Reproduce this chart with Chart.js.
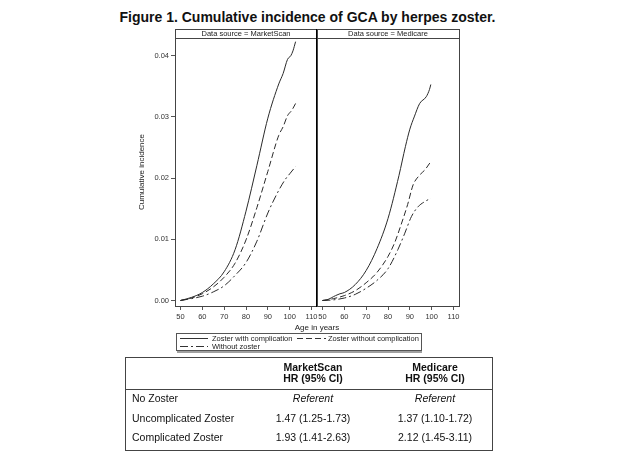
<!DOCTYPE html>
<html>
<head>
<meta charset="utf-8">
<script src="https://cdn.jsdelivr.net/npm/chart.js@4/dist/chart.umd.min.js"></script>
<style>
body { margin: 0; background: #fff; font-family: "Liberation Sans", Arial, sans-serif; color: #111; }
#wrap { position: relative; width: 617px; height: 463px; overflow: hidden; }
canvas { position: absolute; left: 0; top: 0; }
.t { position: absolute; white-space: nowrap; line-height: 1; }
.leg { font-size: 7.5px; color: #222; }
.tb { font-size: 10.5px; color: #111; }
.c1 { left: 263px; width: 100px; text-align: center; }
.c2 { left: 385px; width: 100px; text-align: center; }
</style>
</head>
<body>
<div id="wrap">
  <div class="t" style="left:0;width:615px;top:10px;text-align:center;font-weight:bold;font-size:14px;">Figure 1. Cumulative incidence of GCA by herpes zoster.</div>

  <canvas id="leftChart" width="617" height="463"></canvas>
  <canvas id="rightChart" width="617" height="463"></canvas>

  <div class="t" style="left:267px;width:100px;top:324px;text-align:center;font-size:8px;color:#222;">Age in years</div>

  <!-- legend -->
  <div style="position:absolute;left:176px;top:333px;width:244px;height:16px;border:1px solid #555;"></div>
  <svg style="position:absolute;left:0;top:0;" width="617" height="463">
    <line x1="180" y1="338.5" x2="208" y2="338.5" stroke="#333" stroke-width="1"/>
    <line x1="297" y1="338.5" x2="326" y2="338.5" stroke="#333" stroke-width="1" stroke-dasharray="6,3"/>
    <line x1="180" y1="346.5" x2="208" y2="346.5" stroke="#333" stroke-width="1" stroke-dasharray="8,3,2,3"/>
  </svg>
  <div class="t leg" style="left:212px;top:335px;">Zoster with complication</div>
  <div class="t leg" style="left:328px;top:335px;">Zoster without complication</div>
  <div class="t leg" style="left:212px;top:343px;">Without zoster</div>
  <div style="position:absolute;left:177px;top:351px;width:245px;height:2px;background:#a0a0a0;"></div>

  <!-- table -->
  <div style="position:absolute;left:125px;top:357px;width:366px;height:92px;border:1px solid #444;"></div>
  <div style="position:absolute;left:126px;top:389px;width:366px;height:1px;background:#444;"></div>
  <div class="t tb c1" style="top:362px;font-weight:bold;">MarketScan</div>
  <div class="t tb c1" style="top:373px;font-weight:bold;">HR (95% CI)</div>
  <div class="t tb c2" style="top:362px;font-weight:bold;">Medicare</div>
  <div class="t tb c2" style="top:373px;font-weight:bold;">HR (95% CI)</div>
  <div class="t tb" style="left:132px;top:393px;">No Zoster</div>
  <div class="t tb" style="left:132px;top:413px;">Uncomplicated Zoster</div>
  <div class="t tb" style="left:132px;top:432px;">Complicated Zoster</div>
  <div class="t tb c1" style="top:393px;font-style:italic;">Referent</div>
  <div class="t tb c2" style="top:393px;font-style:italic;">Referent</div>
  <div class="t tb c1" style="top:413px;">1.47 (1.25-1.73)</div>
  <div class="t tb c2" style="top:413px;">1.37 (1.10-1.72)</div>
  <div class="t tb c1" style="top:432px;">1.93 (1.41-2.63)</div>
  <div class="t tb c2" style="top:432px;">2.12 (1.45-3.11)</div>
</div>

<script>
// tick labels
const xTicks = [50, 60, 70, 80, 90, 100, 110];
const yTicks = [0, 0.01, 0.02, 0.03, 0.04];

const seriesLabels = ['Zoster with complication', 'Zoster without complication', 'Without zoster'];

// MarketScan
const msAgeWith = [50, 55, 60, 65, 70, 75, 80, 85, 90, 95, 97, 99, 100.5, 101.5, 102.7];
const msWith = [0, 0.0005, 0.0013, 0.0027, 0.0047, 0.0083, 0.0146, 0.0221, 0.0298, 0.0354, 0.0371, 0.0394, 0.0400, 0.0408, 0.0423];
const msAgeWithout = [50, 55, 60, 65, 70, 75, 80, 85, 90, 95, 97, 99, 101, 102.7];
const msWithout = [0, 0.0004, 0.0011, 0.0022, 0.0038, 0.0061, 0.0099, 0.0152, 0.0211, 0.0270, 0.0284, 0.0302, 0.0311, 0.0322];
const msAgeNone = [50, 55, 60, 65, 70, 75, 80, 85, 90, 95, 98, 100, 102.7];
const msNone = [0, 0.0003, 0.0007, 0.0014, 0.0024, 0.0041, 0.0062, 0.0097, 0.0143, 0.0180, 0.0198, 0.0207, 0.0219];

// Medicare
const mcAgeWith = [50, 52, 56, 58, 60, 65, 70, 75, 80, 85, 88, 90, 92, 94.5, 97.5, 99, 99.6];
const mcWith = [0, 0.0001, 0.0008, 0.0011, 0.0013, 0.0026, 0.0049, 0.0085, 0.0134, 0.0204, 0.0252, 0.0280, 0.0300, 0.0322, 0.0333, 0.0345, 0.0353];
const mcAgeWithout = [50, 55, 60, 65, 70, 75, 80, 83, 86, 89, 91.5, 94, 97, 99.6];
const mcWithout = [0, 0.0003, 0.0008, 0.0016, 0.0029, 0.0046, 0.0072, 0.0094, 0.0124, 0.0157, 0.0189, 0.0203, 0.0214, 0.0227];
const mcAgeNone = [50, 55, 60, 65, 70, 75, 80, 84.5, 87.7, 90.7, 93.7, 97, 99.6];
const mcNone = [0, 0.0001, 0.0004, 0.0010, 0.0020, 0.0033, 0.0052, 0.0083, 0.0110, 0.0137, 0.0153, 0.0162, 0.0167];

const dashes = [[], [6, 3], [8, 3, 2, 3]];
const fontFamily = '"Liberation Sans", Arial, sans-serif';

function toPoints(ages, vals) {
    return ages.map((a, i) => ({ x: a, y: vals[i] }));
}

function makeDatasets(series) {
    return series.map((s, i) => ({
        label: seriesLabels[i],
        data: toPoints(s[0], s[1]),
        borderColor: '#2a2a2a',
        borderWidth: 1,
        borderDash: dashes[i],
        pointRadius: 0,
        cubicInterpolationMode: 'monotone',
        fill: false
    }));
}

// frame + "Data source = ..." strip
const panelFrame = {
    id: 'panelFrame',
    afterDraw(chart, args, opts) {
        const { ctx, chartArea: a } = chart;
        const top = a.top - 9;
        ctx.save();
        ctx.strokeStyle = '#444';
        ctx.lineWidth = 1;
        ctx.strokeRect(a.left + 0.5, top + 0.5, a.right - a.left, a.bottom - top);
        ctx.beginPath();
        ctx.moveTo(a.left, a.top + 0.5);
        ctx.lineTo(a.right, a.top + 0.5);
        ctx.stroke();
        if (opts.divider) {
            ctx.strokeStyle = '#000';
            ctx.lineWidth = 2;
            ctx.beginPath();
            ctx.moveTo(a.right, top);
            ctx.lineTo(a.right, a.bottom + 1);
            ctx.stroke();
        }
        ctx.fillStyle = '#222';
        ctx.font = '7.5px ' + fontFamily;
        ctx.textAlign = 'center';
        ctx.textBaseline = 'middle';
        ctx.fillText(opts.label, (a.left + a.right) / 2, top + 5);
        ctx.restore();
    }
};

function makeChart(id, series, label, showY, padding) {
    const ctx = document.getElementById(id).getContext('2d');
    return new Chart(ctx, {
        type: 'line',
        data: { datasets: makeDatasets(series) },
        options: {
            responsive: false,
            animation: false,
            devicePixelRatio: 1,
            layout: { padding: padding },
            plugins: {
                legend: { display: false },
                tooltip: { enabled: false },
                panelFrame: { label: label, divider: showY }
            },
            scales: {
                x: {
                    type: 'linear',
                    min: 47.5,
                    max: 112.5,
                    afterBuildTicks: s => { s.ticks = xTicks.map(v => ({ value: v })); },
                    afterFit: s => { s.height = 20; },
                    border: { display: false },
                    grid: { drawOnChartArea: false, tickLength: 4, color: '#555' },
                    ticks: { color: '#333', font: { size: 7.5, family: fontFamily }, padding: 2, maxRotation: 0 }
                },
                y: {
                    display: showY,
                    min: -0.0009,
                    max: 0.0429,
                    afterBuildTicks: s => { s.ticks = yTicks.map(v => ({ value: v })); },
                    afterFit: s => { s.width = showY ? 39 : 0; },
                    border: { display: false },
                    grid: { drawOnChartArea: false, tickLength: 4, color: '#555' },
                    ticks: {
                        color: '#333',
                        font: { size: 7.5, family: fontFamily },
                        padding: 2,
                        callback: v => v.toFixed(2)
                    },
                    title: {
                        display: true,
                        text: 'Cumulative incidence',
                        color: '#222',
                        font: { size: 8, family: fontFamily },
                        padding: 1
                    }
                }
            }
        },
        plugins: [panelFrame]
    });
}

makeChart('leftChart',
    [[msAgeWith, msWith], [msAgeWithout, msWithout], [msAgeNone, msNone]],
    'Data source = MarketScan', true,
    { left: 136, right: 300, top: 38, bottom: 137 });

makeChart('rightChart',
    [[mcAgeWith, mcWith], [mcAgeWithout, mcWithout], [mcAgeNone, mcNone]],
    'Data source = Medicare', false,
    { left: 317, right: 158, top: 38, bottom: 137 });
</script>
</body>
</html>
